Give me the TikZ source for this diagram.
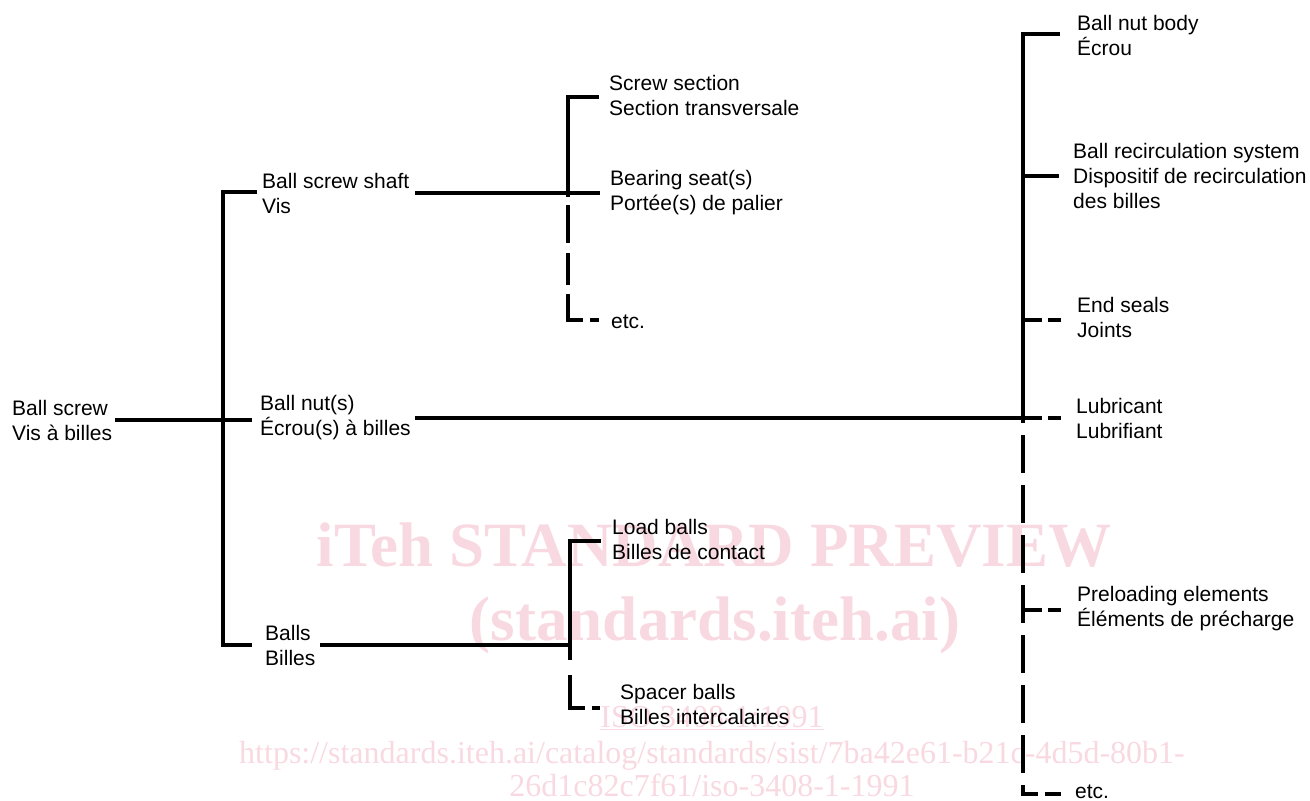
\documentclass[tikz,border=0pt]{standalone}
\usepackage{fontspec}
\setmainfont{Liberation Sans}
\newfontfamily\wmfont{Liberation Serif}
\definecolor{wmpink}{RGB}{249,217,225}
\begin{document}
\begin{tikzpicture}[x=1pt,y=-1pt,
  lbl/.style={anchor=west, align=left, inner sep=0pt, font=\fontsize{21}{25}\selectfont},
  tree/.style={line width=3.6pt, line join=miter, line cap=butt},
  wmbig/.style={anchor=base, inner sep=0pt, text=wmpink, font=\wmfont\bfseries\fontsize{63}{70}\selectfont},
  wmsmall/.style={anchor=base, inner sep=0pt, text=wmpink, font=\wmfont\fontsize{32}{36}\selectfont},
  stubdash/.style={tree, dash pattern=on 19pt off 6pt on 16pt off 60pt}]
\useasboundingbox (0,0) rectangle (1310,801);

% watermark
\node[wmbig] (wm1) at (714,566) {iTeh STANDARD PREVIEW};
\node[wmbig] (wm2) at (715,640) {(standards.iteh.ai)};
\node[wmsmall] (wm3) at (712,727) {\underline{ISO 3408-1:1991}};
\node[wmsmall] (wm4) at (712,763) {https://standards.iteh.ai/catalog/standards/sist/7ba42e61-b21c-4d5d-80b1-};
\node[wmsmall] (wm5) at (712,796) {26d1c82c7f61/iso-3408-1-1991};

% labels
\node[lbl] (root) at (12,420) {Ball screw\\Vis à billes};
\node[lbl] (shaft) at (262,193) {Ball screw shaft\\Vis};
\node[lbl] (nut) at (260,418) {Ball nut(s)\\Écrou(s) à billes};
\node[lbl] (balls) at (265,645) {Balls\\Billes};
\node[lbl] (screwsec) at (609,95) {Screw section\\Section transversale};
\node[lbl] (bearing) at (610,193) {Bearing seat(s)\\Portée(s) de palier};
\node[lbl] (etca) at (611,322) {etc.};
\node[lbl] (load) at (612,539) {Load balls\\Billes de contact};
\node[lbl] (spacer) at (620,704) {Spacer balls\\Billes intercalaires};
\node[lbl] (body) at (1077,35) {Ball nut body\\Écrou};
\node[lbl] (recirc) at (1073,176) {Ball recirculation system\\Dispositif de recirculation\\des billes};
\node[lbl] (seals) at (1077,317) {End seals\\Joints};
\node[lbl] (lube) at (1076,418) {Lubricant\\Lubrifiant};
\node[lbl] (preload) at (1077,609) {Preloading elements\\Éléments de précharge};
\node[lbl] (etcb) at (1075,792) {etc.};

% junction coordinates
\coordinate (r0) at (115,420);
\coordinate (r1) at (252,420);
\coordinate (k1) at (257,192);
\coordinate (k2) at (223,192);
\coordinate (k3) at (223,645);
\coordinate (k4) at (252,645);

\coordinate (s0) at (415,193);
\coordinate (s1) at (600,193);
\coordinate (s2) at (599,97);
\coordinate (s3) at (568,97);
\coordinate (s4) at (568,193);
\coordinate (s5) at (568,320);
\coordinate (s6) at (599,320);

\coordinate (n0) at (415,418);
\coordinate (n1) at (1023,418);
\coordinate (n2) at (1060,34);
\coordinate (n3) at (1023,34);
\coordinate (n4) at (1023,176);
\coordinate (n5) at (1059,176);
\coordinate (n6) at (1023,320);
\coordinate (n7) at (1061,320);
\coordinate (n8) at (1061,418);
\coordinate (n9) at (1023,610);
\coordinate (n10) at (1061,610);
\coordinate (n11) at (1023,794);
\coordinate (n12) at (1061,794);

\coordinate (b0) at (320,645);
\coordinate (b1) at (570,645);
\coordinate (b2) at (601,541);
\coordinate (b3) at (570,541);
\coordinate (b4) at (570,708);
\coordinate (b5) at (600,708);

% level 1
\draw[tree] (r0) -- (r1);
\draw[tree] (k1) -- (k2) -- (k3) -- (k4);

% screw shaft
\draw[tree] (s0) -- (s1);
\draw[tree] (s2) -- (s3) -- (s4);
\draw[tree, dash pattern=on 4pt off 8pt on 38pt off 10pt on 32pt off 9pt on 41pt off 7pt on 20pt off 60pt] (s4) -- (s5) -- (s6);

% ball nut
\draw[tree] (n0) -- (n1);
\draw[tree] (n2) -- (n3) -- (n1);
\draw[tree] (n4) -- (n5);
\draw[stubdash] (n6) -- (n7);
\draw[stubdash] (n1) -- (n8);
\draw[stubdash] (n9) -- (n10);
\draw[tree, dash pattern=on 5pt off 12pt on 38pt off 12pt on 38pt off 12pt on 38pt off 12pt on 38pt off 12pt on 38pt off 12pt on 38pt off 12pt on 38pt off 12pt on 24pt off 7pt on 20pt off 60pt] (n1) -- (n11) -- (n12);

% balls
\draw[tree] (b0) -- (b1);
\draw[tree] (b2) -- (b3) -- (b1);
\draw[tree, dash pattern=on 15pt off 15pt on 48pt off 7pt on 20pt off 60pt] (b1) -- (b4) -- (b5);
\end{tikzpicture}
\end{document}
